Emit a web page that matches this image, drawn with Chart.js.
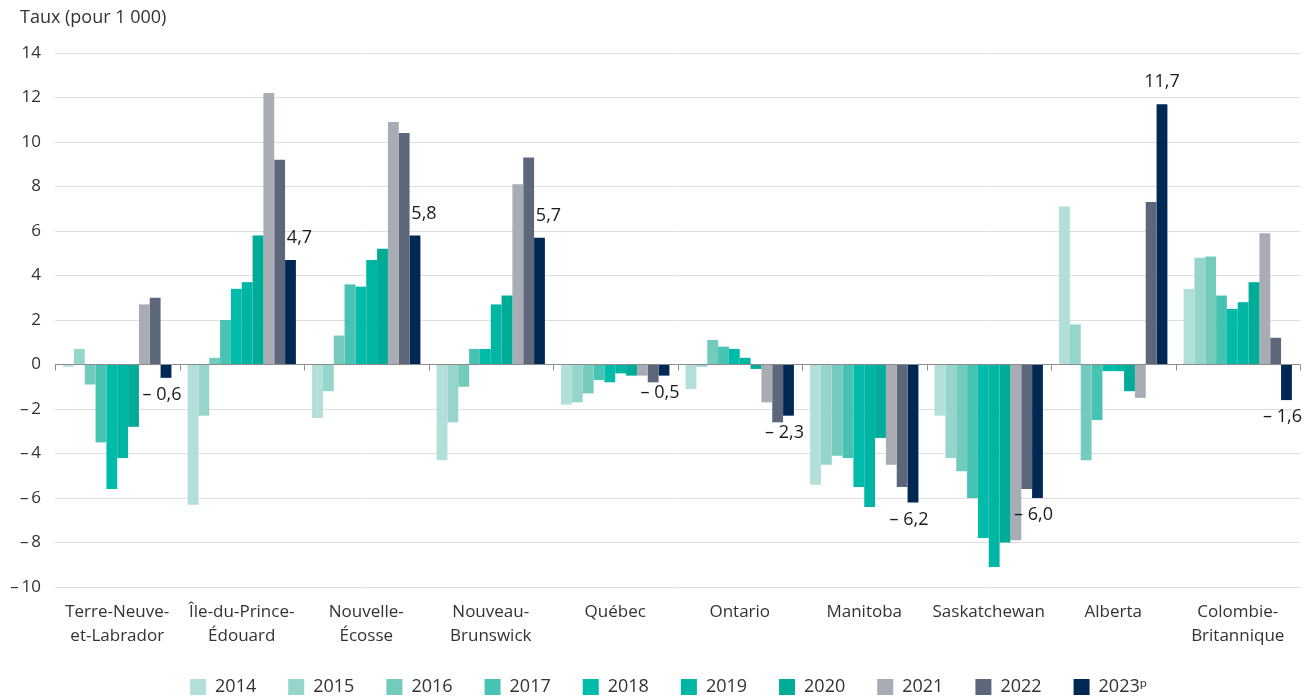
<!DOCTYPE html>
<html lang="fr">
<head>
<meta charset="utf-8">
<title>Taux de migration interprovinciale nette</title>
<script src="https://cdn.jsdelivr.net/npm/chart.js@4.4.1/dist/chart.umd.min.js"></script>
<style>
  html, body { margin: 0; padding: 0; background: #ffffff; }
  #wrap { width: 1310px; height: 697px; position: relative; }
</style>
</head>
<body>
<div id="wrap"><canvas id="chart" width="1310" height="697"></canvas></div>
<script>
// Provinces (x categories)
const provinces = [
  ['Terre-Neuve-', 'et-Labrador'],
  ['Île-du-Prince-', 'Édouard'],
  ['Nouvelle-', 'Écosse'],
  ['Nouveau-', 'Brunswick'],
  'Québec',
  'Ontario',
  'Manitoba',
  'Saskatchewan',
  'Alberta',
  ['Colombie-', 'Britannique']
];

// Years (one series each)
const years = ['2014', '2015', '2016', '2017', '2018', '2019', '2020', '2021', '2022', '2023ᵖ'];

// Rate per 1 000, one array per year, in province order
const r2014 = [-0.1, -6.3, -2.4, -4.3, -1.8, -1.1, -5.4, -2.3,  7.1,  3.4];
const r2015 = [ 0.7, -2.3, -1.2, -2.6, -1.7, -0.1, -4.5, -4.2,  1.8,  4.8];
const r2016 = [-0.9,  0.3,  1.3, -1.0, -1.3,  1.1, -4.1, -4.8, -4.3,  4.85];
const r2017 = [-3.5,  2.0,  3.6,  0.7, -0.7,  0.8, -4.2, -6.0, -2.5,  3.1];
const r2018 = [-5.6,  3.4,  3.5,  0.7, -0.8,  0.7, -5.5, -7.8, -0.3,  2.5];
const r2019 = [-4.2,  3.7,  4.7,  2.7, -0.4,  0.3, -6.4, -9.1, -0.3,  2.8];
const r2020 = [-2.8,  5.8,  5.2,  3.1, -0.5, -0.2, -3.3, -8.0, -1.2,  3.7];
const r2021 = [ 2.7, 12.2, 10.9,  8.1, -0.5, -1.7, -4.5, -7.9, -1.5,  5.9];
const r2022 = [ 3.0,  9.2, 10.4,  9.3, -0.8, -2.6, -5.5, -5.6,  7.3,  1.2];
const r2023 = [-0.6,  4.7,  5.8,  5.7, -0.5, -2.3, -6.2, -6.0, 11.7, -1.6];

// Y axis
const yMin = -10;
const yMax = 14;
const yStep = 2;
const yTitle = 'Taux (pour 1 000)';

const seriesValues = [r2014, r2015, r2016, r2017, r2018, r2019, r2020, r2021, r2022, r2023];
const seriesColors = ['#b2dfda', '#95d5cb', '#73cbbd', '#47c3b3', '#00bbaa', '#00b5a3', '#00ac98', '#a8acb4', '#5c677b', '#002855'];

const FONT = '"Open Sans", "Noto Sans", sans-serif';
const TEXT = '#333333';

// French number format: comma decimal, dash-and-space for negatives
function fmt(v, digits) {
  const s = Math.abs(v).toFixed(digits).replace('.', ',');
  return v < 0 ? '\u2013 ' + s : s;
}

// Y-axis title, top left
const axisTitlePlugin = {
  id: 'axisTitle',
  afterDraw(chart) {
    const ctx = chart.ctx;
    ctx.save();
    ctx.font = '18px ' + FONT;
    ctx.fillStyle = TEXT;
    ctx.textAlign = 'left';
    ctx.textBaseline = 'middle';
    ctx.fillText(yTitle, 20, 18);
    ctx.restore();
  }
};

// Zero line with small ticks between provinces
const zeroLinePlugin = {
  id: 'zeroLine',
  afterDatasetsDraw(chart) {
    const x = chart.scales.x, y = chart.scales.y;
    const y0 = Math.round(y.getPixelForValue(0)) + 0.5;
    const ctx = chart.ctx;
    ctx.save();
    ctx.strokeStyle = '#8c8c8c';
    ctx.lineWidth = 1;
    ctx.beginPath();
    ctx.moveTo(chart.chartArea.left, y0);
    ctx.lineTo(chart.chartArea.right, y0);
    const half = (x.getPixelForValue(1) - x.getPixelForValue(0)) / 2;
    for (let i = 0; i <= provinces.length; i++) {
      const px = Math.round(x.getPixelForValue(i) - half) + 0.5;
      ctx.moveTo(px, y0);
      ctx.lineTo(px, y0 + 6);
    }
    ctx.stroke();
    ctx.restore();
  }
};

// Value labels on the latest year
const valueLabelPlugin = {
  id: 'valueLabels',
  afterDatasetsDraw(chart) {
    const last = chart.data.datasets.length - 1;
    const meta = chart.getDatasetMeta(last);
    const prev = chart.data.datasets[last - 1].data;
    const ctx = chart.ctx;
    ctx.save();
    ctx.font = '18px ' + FONT;
    ctx.fillStyle = '#1a1a1a';
    ctx.textAlign = 'center';
    ctx.textBaseline = 'middle';
    meta.data.forEach((bar, i) => {
      const v = chart.data.datasets[last].data[i];
      if (v >= 0) {
        const shift = prev[i] > v ? 9 : 0;
        ctx.fillText(fmt(v, 1), bar.x + shift, bar.y - 22);
      } else {
        ctx.fillText(fmt(v, 1), bar.x - 4, bar.y + 17);
      }
    });
    ctx.restore();
  }
};

new Chart(document.getElementById('chart'), {
  type: 'bar',
  data: {
    labels: provinces,
    datasets: years.map((yr, k) => ({
      label: yr,
      data: seriesValues[k],
      backgroundColor: seriesColors[k],
      borderWidth: 0,
      categoryPercentage: 0.87,
      barPercentage: 1.0
    }))
  },
  options: {
    responsive: false,
    animation: false,
    devicePixelRatio: 1,
    layout: { padding: { top: 53, left: 10, right: -17, bottom: -9 } },
    plugins: {
      legend: {
        position: 'bottom',
        labels: {
          boxWidth: 16,
          boxHeight: 16,
          padding: 32,
          color: TEXT,
          font: { family: FONT, size: 18 }
        }
      },
      title: { display: false },
      tooltip: { enabled: false }
    },
    scales: {
      x: {
        grid: { display: false, drawTicks: false },
        border: { display: false },
        ticks: {
          color: TEXT,
          padding: 13,
          maxRotation: 0,
          autoSkip: false,
          font: { family: FONT, size: 17, lineHeight: 1.4 }
        },
        afterFit(scale) { scale.height = 59; }
      },
      y: {
        min: yMin,
        max: yMax,
        grid: {
          color: (c) => c.tick && c.tick.value === 0 ? 'rgba(0,0,0,0)' : '#dedede',
          drawTicks: false,
          lineWidth: 1
        },
        border: { display: false },
        ticks: {
          stepSize: yStep,
          color: TEXT,
          padding: 14,
          font: { family: FONT, size: 17 },
          callback: (v) => v < 0 ? '\u2013\u2009' + Math.abs(v) : String(v)
        },
        afterFit(scale) { scale.width = 45; }
      },
      // empty right-hand margin
      yRight: {
        position: 'right',
        grid: { display: false, drawTicks: false },
        border: { display: false },
        ticks: { display: false },
        afterFit(scale) { scale.width = 27; }
      }
    }
  },
  plugins: [axisTitlePlugin, zeroLinePlugin, valueLabelPlugin]
});
</script>
</body>
</html>
